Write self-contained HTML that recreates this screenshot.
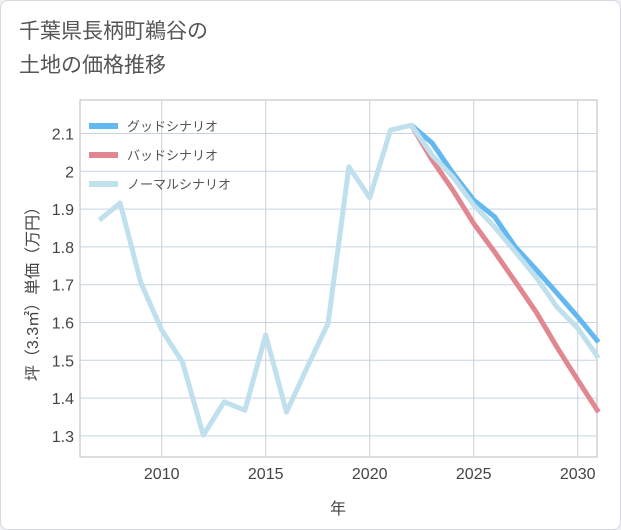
<!DOCTYPE html>
<html><head><meta charset="utf-8"><style>
body{margin:0;background:#eef0f3;font-family:"Liberation Sans","Noto Sans CJK JP",sans-serif;}
#card{position:absolute;left:0;top:0;width:619px;height:528px;background:#fff;border:1px solid #d6d9de;border-radius:8px;}
#title{position:absolute;left:18px;top:14px;font-size:21px;line-height:34px;color:#555;}
</style></head><body>
<div id="card">
<div id="title">千葉県長柄町鵜谷の<br>土地の価格推移</div>
<svg id="chart" width="621" height="530" style="position:absolute;left:-1px;top:-1px"></svg>
</div>
<script>
const years=[2007,2008,2009,2010,2011,2012,2013,2014,2015,2016,2017,2018,2019,2020,2021,2022];
const hist=[1.871,1.916,1.705,1.58,1.495,1.302,1.39,1.368,1.567,1.363,1.482,1.598,2.012,1.93,2.109,2.122];
const fYears=[2022,2023,2024,2025,2026,2027,2028,2029,2030,2031];
const good=[2.122,2.075,1.995,1.924,1.88,1.80,1.74,1.678,1.615,1.548];
const bad=[2.122,2.03,1.95,1.862,1.787,1.708,1.628,1.535,1.448,1.363];
const normal=[2.122,2.043,1.985,1.911,1.853,1.787,1.72,1.641,1.585,1.506];
const yTicks=[1.3,1.4,1.5,1.6,1.7,1.8,1.9,2,2.1];
const xTicks=[2010,2015,2020,2025,2030];
const L=80,R=597,T=100,B=457;
const X=y=>161.7+(y-2010)*20.8;
const Y=v=>133.5+(2.1-v)*378;
const svg=document.getElementById('chart');
const NS='http://www.w3.org/2000/svg';
function mk(t,a){const e=document.createElementNS(NS,t);for(const k in a)e.setAttribute(k,a[k]);svg.appendChild(e);return e;}
let bg=mk('rect',{x:L,y:T,width:R-L,height:B-T,fill:'#fff',stroke:'#bbb'});


yTicks.forEach(v=>{
 let g=mk('line',{x1:L,x2:R,y1:Y(v),y2:Y(v),stroke:'#c8d3e0'});
 
 
 let t=mk('text',{x:L-6,y:Y(v)+6,'text-anchor':'end','font-size':16,fill:'#444'});
 t.textContent=String(v);
 
 
});
xTicks.forEach(v=>{
 let g=mk('line',{x1:X(v),x2:X(v),y1:T,y2:B,stroke:'#c8d3e0'});
 
 
 let t=mk('text',{x:X(v),y:B+22,'text-anchor':'middle','font-size':16,fill:'#444'});
 t.textContent=String(v);
 
 
});
let xt=mk('text',{x:338,y:514,'text-anchor':'middle','font-size':16,fill:'#444'});
xt.textContent='年';


let yt=mk('text',{x:0,y:0,'text-anchor':'middle','font-size':16,fill:'#444',transform:'translate(38,290) rotate(-90)'});
yt.textContent='坪（3.3㎡）単価（万円）';


function line(xs,vs,c,name){
 const d=xs.map((x,i)=>(i?'L':'M')+X(x)+','+Y(vs[i])).join(' ');
 let p=mk('path',{d:d,fill:'none',stroke:c,'stroke-width':5,'stroke-linejoin':'round'});
 
 
}
svg.appendChild(document.createElementNS(NS,'g'));
const clip=mk('clipPath',{id:'c'});clip.appendChild(document.createElementNS(NS,'rect'));
line(fYears,good,'#62b8ef','good-scenario-line');
line(fYears,bad,'#e0878f','bad-scenario-line');
line(years.concat(fYears.slice(1)),hist.concat(normal.slice(1)),'#bfe0ec','normal-scenario-line');
const leg=[['グッドシナリオ','#62b8ef'],['バッドシナリオ','#e0878f'],['ノーマルシナリオ','#bfe0ec']];
leg.forEach((l,i)=>{
 const y=126+i*29;
 let s=mk('rect',{x:89,y:y-3,width:29,height:6,fill:l[1]});
 
 
 let t=mk('text',{x:127,y:y+5,'font-size':13,fill:'#555'});
 t.textContent=l[0];
 
 
});
</script>
</body></html>
